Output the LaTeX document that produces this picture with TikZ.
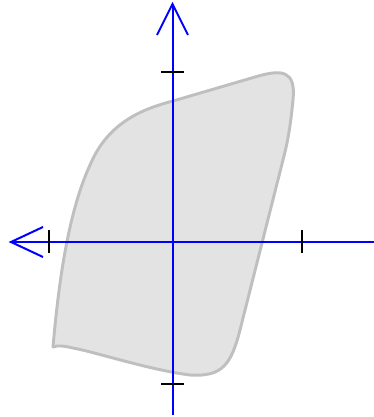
\documentclass[tikz,border=0pt]{standalone}
\begin{document}
\begin{tikzpicture}[x=0.75pt,y=-0.75pt,
  axis/.style={blue,line width=1.5pt},
  tick/.style={black,line width=1.5pt},
  region/.style={fill=black!11,draw=black!25,line width=2.2pt,line join=round}]
\useasboundingbox (0,0) rectangle (374,417);
% region
\draw[region] (53,347) .. controls (58,290) and (67,215) .. (90,165)
  .. controls (107,125) and (138,110) .. (173,101)
  -- (255,77)
  .. controls (282,69) and (296,70) .. (293,100)
  .. controls (291,120) and (289,135) .. (285,152)
  -- (240,330)
  .. controls (231,365) and (222,377) .. (190,375)
  .. controls (150,370) and (95,352) .. (73,348)
  .. controls (65,346) and (57,345) .. (53,347) -- cycle;
% axes
\coordinate (ytop) at (172.5,4);
\coordinate (ybot) at (172.5,415);
\coordinate (xleft) at (11,242);
\coordinate (xright) at (374,242);
\coordinate (yw1) at (157,35);
\coordinate (yw2) at (188,35);
\coordinate (xw1) at (43,227);
\coordinate (xw2) at (43,257);
\draw[axis] (ybot) -- (ytop);
\draw[axis] (xright) -- (xleft);
\draw[axis,line join=miter] (yw1) -- (ytop) -- (yw2);
\draw[axis,line join=miter] (xw1) -- (xleft) -- (xw2);
% ticks
\coordinate (tl1) at (49,230); \coordinate (tl2) at (49,253);
\coordinate (tr1) at (301.5,230); \coordinate (tr2) at (301.5,253);
\coordinate (tt1) at (161,72.5); \coordinate (tt2) at (184,72.5);
\coordinate (tb1) at (161,384); \coordinate (tb2) at (184,384);
\draw[tick] (tl1) -- (tl2);
\draw[tick] (tr1) -- (tr2);
\draw[tick] (tt1) -- (tt2);
\draw[tick] (tb1) -- (tb2);
\end{tikzpicture}
\end{document}
